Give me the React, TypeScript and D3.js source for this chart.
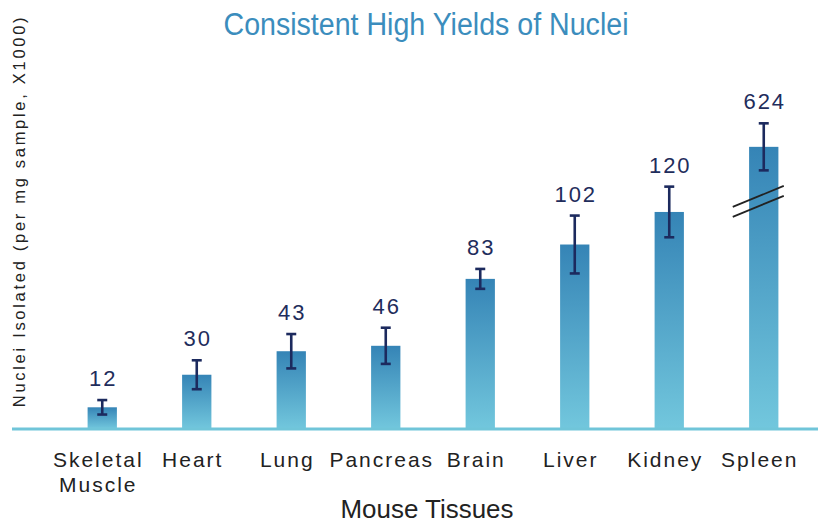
import React from "react"
import * as d3 from "d3"

const tissues = ["Skeletal\nMuscle", "Heart", "Lung", "Pancreas", "Brain", "Liver", "Kidney", "Spleen"]
const yields = [12, 30, 43, 46, 83, 102, 120, 624]
const errors = [4, 8, 9.5, 10, 5.5, 16, 14, 13]
// spleen is drawn on a broken axis: shown height in plot units
const brokenIndex = 7
const brokenShown = 156
const breakAt = [128.3, 122.8]

const width = 822
const height = 526
const baseY = 429

export default function App() {
    const x = d3.scaleBand<string>()
        .domain(tissues)
        .range([55, 811])
        .paddingInner(0.69)
        .paddingOuter(0.345)

    const y = d3.scaleLinear()
        .domain([0, 230])
        .range([baseY, 13])

    const shown = (i: number) => (i === brokenIndex ? brokenShown : yields[i])
    const bw = x.bandwidth()

    return (
        <svg width={width} height={height} style={{ position: "absolute", left: 0, top: 0 }}
            fontFamily="Liberation Sans, Arial, sans-serif">
            <defs>
                <linearGradient id="barFill" x1="0" y1="0" x2="0" y2="1">
                    <stop offset="0%" stopColor="#3584b6" />
                    <stop offset="100%" stopColor="#72c7dd" />
                </linearGradient>
            </defs>

            <text x={426} y={35} textAnchor="middle" fontSize={31} fill="#3b8dbd"
                textLength={405} lengthAdjust="spacingAndGlyphs">Consistent High Yields of Nuclei</text>

            <text transform={`translate(25, 211) rotate(-90)`} textAnchor="middle" fontSize={16.5}
                letterSpacing={2.7} fill="#222">Nuclei Isolated (per mg sample, X1000)</text>

            {tissues.map((t, i) => {
                const cx = x(t)! + bw / 2
                const top = y(shown(i))
                const eTop = y(shown(i) + errors[i])
                const eBot = y(shown(i) - errors[i])
                return (
                    <g key={t}>
                        <rect x={x(t)} y={top} width={bw} height={baseY - top} fill="url(#barFill)" />
                        <line x1={cx} x2={cx} y1={eTop} y2={eBot} stroke="#1c2a5e" strokeWidth={2.6} />
                        <line x1={cx - 5} x2={cx + 5} y1={eTop} y2={eTop} stroke="#1c2a5e" strokeWidth={2.6} />
                        <line x1={cx - 5} x2={cx + 5} y1={eBot} y2={eBot} stroke="#1c2a5e" strokeWidth={2.6} />
                        <text x={cx + 1} y={eTop - 14} textAnchor="middle" fontSize={22} letterSpacing={2}
                            fill="#1f2d5c">{yields[i]}</text>
                        {t.split("\n").map((line, k) => (
                            <text key={k} x={cx - 4} y={467 + k * 25} textAnchor="middle" fontSize={21}
                                letterSpacing={2} fill="#222">{line}</text>
                        ))}
                    </g>
                )
            })}

            {breakAt.map((v, k) => {
                const cx = x(tissues[brokenIndex])! + bw / 2
                return (
                    <line key={k} x1={cx - 31} x2={cx + 20} y1={y(v) + 10} y2={y(v) - 11}
                        stroke="#222" strokeWidth={1.8} />
                )
            })}

            <line x1={12} x2={818} y1={baseY} y2={baseY} stroke="#70c5d9" strokeWidth={3} />

            <text x={427} y={518} textAnchor="middle" fontSize={25} fill="#222"
                textLength={173} lengthAdjust="spacingAndGlyphs">Mouse Tissues</text>
        </svg>
    )
}
